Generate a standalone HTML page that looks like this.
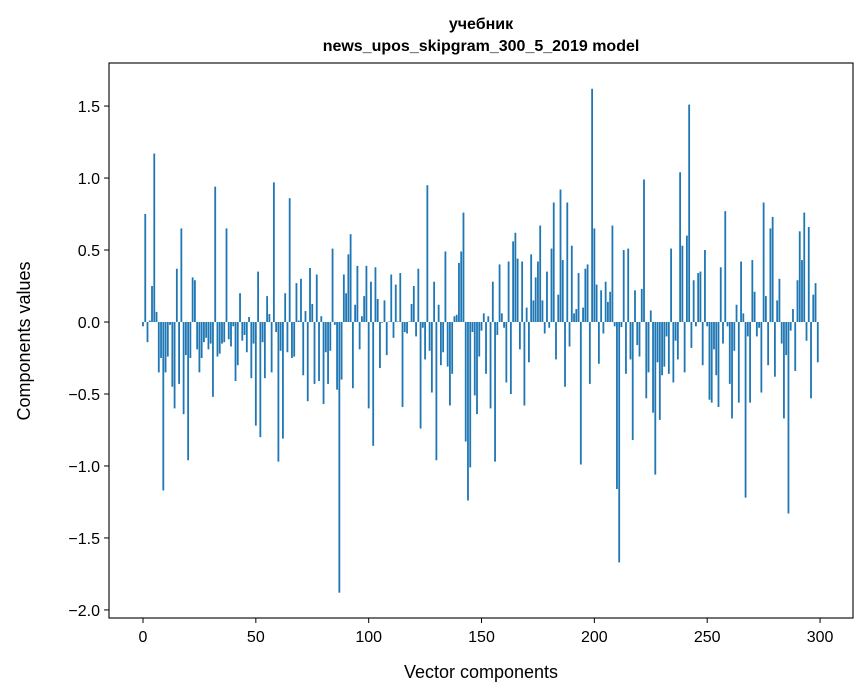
<!DOCTYPE html>
<html><head><meta charset="utf-8"><style>
body{margin:0;background:#fff}
svg{display:block;font-family:"Liberation Sans","DejaVu Sans",sans-serif}
</style></head><body>
<svg id="chart" width="867" height="696" xmlns="http://www.w3.org/2000/svg">
<text x="481" y="29" text-anchor="middle" font-size="16" font-weight="bold" font-family="Liberation Sans, DejaVu Sans, sans-serif">учебник</text>
<text x="481" y="51" text-anchor="middle" font-size="16" font-weight="bold">news_upos_skipgram_300_5_2019 model</text>
<g id="bars"></g>
<g id="axes"></g>
<text x="481" y="678" text-anchor="middle" font-size="18">Vector components</text>
<text transform="translate(30,341) rotate(-90)" text-anchor="middle" font-size="18">Components values</text>
</svg>
<script>
const values = [-0.03,0.75,-0.14,0.01,0.25,1.17,0.07,-0.35,-0.25,-1.17,-0.35,-0.24,-0.02,-0.45,-0.60,0.37,-0.43,0.65,-0.64,-0.23,-0.96,-0.25,0.31,0.29,-0.19,-0.35,-0.25,-0.14,-0.11,-0.19,-0.15,-0.52,0.94,-0.24,-0.22,-0.15,-0.14,0.65,-0.12,-0.17,-0.03,-0.41,-0.30,0.20,-0.13,-0.09,-0.21,0.035,-0.39,-0.15,-0.72,0.35,-0.80,-0.14,-0.39,0.18,0.055,-0.35,0.97,-0.07,-0.97,-0.20,-0.81,0.20,-0.21,0.86,-0.25,-0.24,0.27,0.01,0.30,-0.37,0.076,-0.55,0.375,0.125,-0.43,0.33,-0.41,0.04,-0.57,-0.21,-0.43,-0.20,0.51,-0.02,-0.47,-1.88,-0.40,0.33,0.20,0.47,0.61,-0.46,0.12,0.39,-0.19,0.04,0.18,0.39,-0.60,0.28,-0.86,0.38,0.16,-0.32,-0.005,0.15,-0.23,0.003,0.33,-0.11,0.26,0.003,0.34,-0.59,-0.07,-0.08,0.003,0.125,0.25,-0.10,0.37,-0.74,-0.04,-0.26,0.95,-0.20,-0.49,0.28,-0.96,0.12,-0.30,-0.21,0.49,-0.31,-0.58,-0.36,0.04,0.05,0.41,0.49,0.76,-0.83,-1.24,-1.01,-0.07,-0.51,-0.64,-0.24,-0.06,0.06,-0.36,0.04,-0.60,0.28,-0.97,-0.09,0.40,0.06,-0.04,-0.42,0.42,-0.50,0.56,0.62,0.44,-0.19,0.42,-0.58,0.10,-0.28,0.47,0.15,0.31,0.42,0.67,0.15,-0.08,0.35,-0.04,0.51,0.83,-0.26,0.19,0.92,0.43,-0.45,0.83,-0.17,0.53,0.06,0.09,0.34,-0.99,0.10,0.37,0.40,-0.43,1.62,0.65,0.26,-0.29,0.22,-0.08,0.28,0.14,0.21,0.67,-0.03,-1.16,-1.67,-0.035,0.50,-0.36,0.51,-0.26,-0.82,0.22,-0.16,-0.24,0.23,0.99,-0.53,-0.35,0.08,-0.63,-1.06,-0.28,-0.68,-0.37,-0.31,-0.10,-0.36,0.51,-0.42,-0.13,-0.26,1.04,0.53,-0.35,0.60,1.51,-0.18,0.29,-0.03,0.34,0.35,-0.30,0.50,-0.03,-0.54,-0.56,-0.19,-0.37,-0.59,0.38,-0.15,0.77,-0.03,-0.43,-0.67,-0.20,0.12,-0.56,0.42,0.06,-1.22,-0.10,-0.56,0.43,0.21,-0.10,-0.04,-0.49,0.83,0.18,-0.30,0.65,0.73,-0.38,0.15,0.30,-0.15,-0.67,-0.23,-1.33,-0.06,0.09,-0.34,0.29,0.63,0.43,0.76,-0.13,0.66,-0.53,0.19,0.27,-0.28];
const yTicks = [1.5,1.0,0.5,0.0,-0.5,-1.0,-1.5,-2.0];
const yTickLabels = ["1.5","1.0","0.5","0.0","−0.5","−1.0","−1.5","−2.0"];
const xTicks = [0,50,100,150,200,250,300];
const xTickLabels = ["0","50","100","150","200","250","300"];

const NS="http://www.w3.org/2000/svg";
const L=109,R=853,T=63,B=618;
const xMin=-15.06,xMax=314.6,yMin=-2.056,yMax=1.799;
function xs(v){return L+(v-xMin)/(xMax-xMin)*(R-L);}
function ys(v){return B-(v-yMin)/(yMax-yMin)*(B-T);}
const barsG=document.getElementById('bars');
const axesG=document.getElementById('axes');
values.forEach(function(v,i){
  const r=document.createElementNS(NS,'rect');
  const x0=xs(i-0.4), x1=xs(i+0.4);
  const y0=ys(Math.max(v,0)), y1=ys(Math.min(v,0));
  r.setAttribute('x',x0);r.setAttribute('width',x1-x0);
  r.setAttribute('y',y0);r.setAttribute('height',Math.max(y1-y0,0.01));
  r.setAttribute('fill','#1f77b4');
  
  
  barsG.appendChild(r);
});
const frame=document.createElementNS(NS,'rect');
frame.setAttribute('x',L);frame.setAttribute('y',T);
frame.setAttribute('width',R-L);frame.setAttribute('height',B-T);
frame.setAttribute('fill','none');frame.setAttribute('stroke','#000');frame.setAttribute('stroke-width','1.1');


axesG.appendChild(frame);
yTicks.forEach(function(v,i){
  const y=ys(v);
  const l=document.createElementNS(NS,'line');
  l.setAttribute('x1',L-5);l.setAttribute('x2',L);l.setAttribute('y1',y);l.setAttribute('y2',y);
  l.setAttribute('stroke','#000');
  
  
  axesG.appendChild(l);
  const t=document.createElementNS(NS,'text');
  t.setAttribute('x',L-9);t.setAttribute('y',y+6);t.setAttribute('text-anchor','end');t.setAttribute('font-size','16');
  t.textContent=yTickLabels[i];
  
  
  axesG.appendChild(t);
});
xTicks.forEach(function(v,i){
  const x=xs(v);
  const l=document.createElementNS(NS,'line');
  l.setAttribute('x1',x);l.setAttribute('x2',x);l.setAttribute('y1',B);l.setAttribute('y2',B+5);
  l.setAttribute('stroke','#000');
  
  
  axesG.appendChild(l);
  const t=document.createElementNS(NS,'text');
  t.setAttribute('x',x);t.setAttribute('y',B+24);t.setAttribute('text-anchor','middle');t.setAttribute('font-size','16');
  t.textContent=xTickLabels[i];
  
  
  axesG.appendChild(t);
});
</script>
</body></html>
